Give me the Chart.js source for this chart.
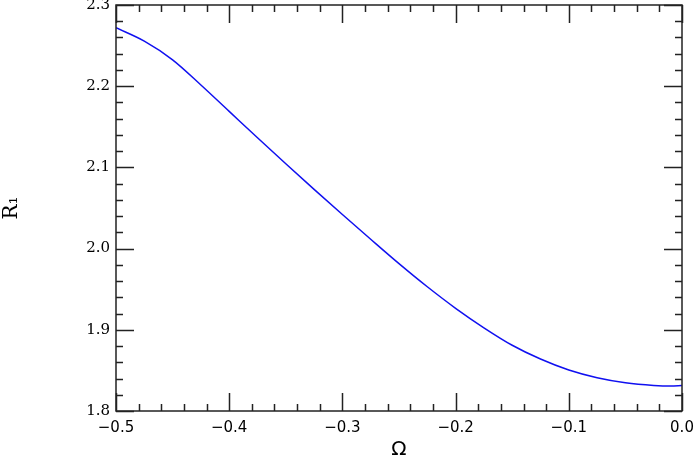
<!DOCTYPE html>
<html>
<head>
<meta charset="utf-8">
<script src="https://cdn.jsdelivr.net/npm/chart.js@4"></script>
<style>
  html, body { margin: 0; padding: 0; background: #fff; }
  #wrap { width: 695px; height: 463px; }
</style>
</head>
<body>
<div id="wrap"><canvas id="chart" width="695" height="463"></canvas></div>
<script>
'use strict';

// ── Data ────────────────────────────────────────────────────────────
const omega = [-0.5, -0.475, -0.45, -0.425, -0.4, -0.375, -0.35, -0.325, -0.3,
               -0.275, -0.25, -0.225, -0.2, -0.175, -0.15, -0.125, -0.1,
               -0.075, -0.05, -0.025, -0.01, 0.0];
const r1    = [2.272, 2.2555, 2.2325, 2.2015, 2.169, 2.1365, 2.1045, 2.073, 2.042,
               2.0115, 1.9815, 1.953, 1.9265, 1.9025, 1.881, 1.864, 1.8505,
               1.841, 1.8348, 1.8315, 1.8307, 1.8313];

const X_MIN = -0.5, X_MAX = 0.0, Y_MIN = 1.8, Y_MAX = 2.3;
const MAJOR = 0.1, MINOR = 0.02;
const MAJOR_LEN = 18, MINOR_LEN = 7;

const fmtTick = v => {
  const s = Math.abs(v).toFixed(1);
  return v < -1e-9 ? '\u2212' + s : s;
};

// ── Frame + inward ticks on all four sides ──────────────────────────
const framePlugin = {
  id: 'frame',
  afterDraw(chart) {
    const { ctx, chartArea: a, scales: { x, y } } = chart;
    ctx.save();
    ctx.strokeStyle = '#222';
    ctx.lineWidth = 1.5;
    ctx.strokeRect(a.left, a.top, a.right - a.left, a.bottom - a.top);

    ctx.beginPath();
    const nx = Math.round((X_MAX - X_MIN) / MINOR);
    for (let i = 0; i <= nx; i++) {
      const v = X_MIN + i * MINOR;
      const len = (i % 5 === 0) ? MAJOR_LEN : MINOR_LEN;
      const px = Math.round(x.getPixelForValue(v)) + 0.5;
      ctx.moveTo(px, a.bottom); ctx.lineTo(px, a.bottom - len);
      ctx.moveTo(px, a.top);    ctx.lineTo(px, a.top + len);
    }
    const ny = Math.round((Y_MAX - Y_MIN) / MINOR);
    for (let i = 0; i <= ny; i++) {
      const v = Y_MIN + i * MINOR;
      const len = (i % 5 === 0) ? MAJOR_LEN : MINOR_LEN;
      const py = Math.round(y.getPixelForValue(v)) + 0.5;
      ctx.moveTo(a.left, py);  ctx.lineTo(a.left + len, py);
      ctx.moveTo(a.right, py); ctx.lineTo(a.right - len, py);
    }
    ctx.stroke();
    ctx.restore();
  },
};

// ── Chart ────────────────────────────────────────────────────────────
const ctx = document.getElementById('chart').getContext('2d');
new Chart(ctx, {
  type: 'line',
  data: {
    datasets: [{
      data: omega.map((o, i) => ({ x: o, y: r1[i] })),
      borderColor: '#1010f0',
      borderWidth: 1.5,
      pointRadius: 0,
      cubicInterpolationMode: 'monotone',
      fill: false,
    }],
  },
  options: {
    responsive: false,
    animation: false,
    layout: { padding: { top: 5, right: 13, left: 0, bottom: 0 } },
    plugins: { legend: { display: false }, tooltip: { enabled: false } },
    scales: {
      x: {
        type: 'linear',
        min: X_MIN, max: X_MAX,
        grid: { display: false, drawTicks: false },
        border: { display: false },
        ticks: {
          stepSize: MAJOR,
          color: '#000',
          padding: 8,
          maxRotation: 0,
          font: { family: 'DejaVu Sans', size: 15 },
          callback: v => fmtTick(v),
        },
        title: {
          display: true,
          text: 'Ω',
          color: '#000',
          padding: { top: 0, bottom: 1 },
          font: { family: 'DejaVu Sans', size: 20 },
        },
        afterFit: s => {
          s.height = 52;
          s.paddingLeft = 0;
          s.paddingRight = 0;
        },
      },
      y: {
        type: 'linear',
        min: Y_MIN, max: Y_MAX,
        grid: { display: false, drawTicks: false },
        border: { display: false },
        ticks: {
          stepSize: MAJOR,
          color: '#000',
          padding: 6,
          font: { family: 'DejaVu Serif', size: 15 },
          callback: v => fmtTick(v),
        },
        title: {
          display: true,
          text: 'R₁',
          color: '#000',
          padding: { top: 0, bottom: 0 },
          font: { family: 'DejaVu Serif', size: 20 },
        },
        afterFit: s => {
          s.width = 116;
          s.paddingTop = 0;
          s.paddingBottom = 0;
        },
      },
    },
  },
  plugins: [framePlugin],
});
</script>
</body>
</html>
